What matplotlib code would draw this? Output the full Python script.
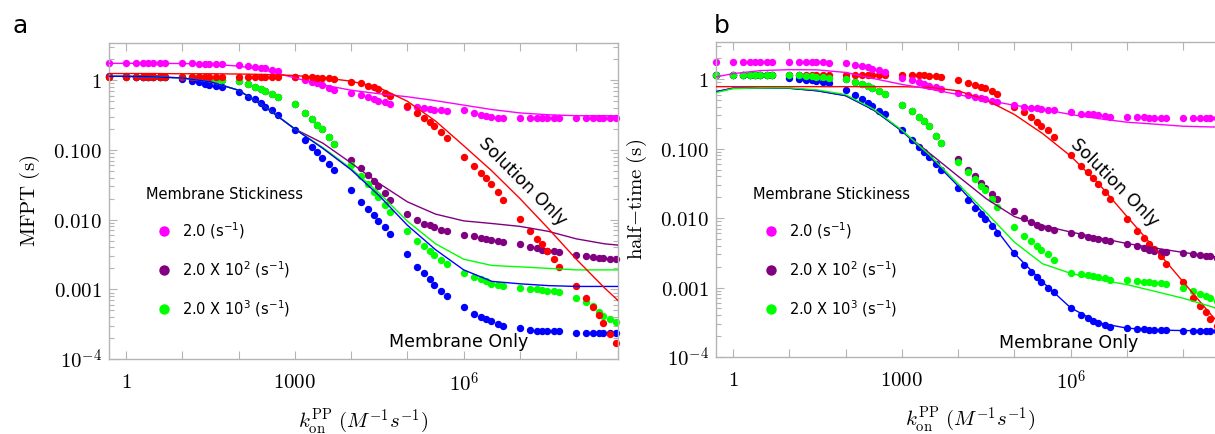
import matplotlib
matplotlib.use("Agg")
import matplotlib.pyplot as plt
from matplotlib.ticker import FixedLocator, FixedFormatter, NullLocator, LogLocator
from matplotlib.lines import Line2D

plt.rcParams['mathtext.fontset'] = 'cm'
plt.rcParams['font.family'] = ['DejaVu Sans']

# ---------------- sampling of k_on (simulation points) ----------------
DOT_LEAD = [0.5]
DOT_DECADES = [0, 1, 2, 3, 4, 5, 6, 7, 8]
DOT_MULT = [1, 1.5, 2, 2.5, 3, 4, 5]
# exponents of k_on where the fitted curves are tabulated
LINE_EXP = [-0.3, 0, 0.5, 1, 1.5, 2, 2.5, 3, 3.5, 4, 4.5, 5, 5.5, 6, 6.5, 7, 7.5, 8, 8.5, 8.75]

SERIES_NAMES = ["2.0 (s$^{-1}$)", "2.0 X 10$^{2}$ (s$^{-1}$)", "2.0 X 10$^{3}$ (s$^{-1}$)"]

# ---------------- panel a : MFPT ----------------
mfpt_mag = [1.75,
            1.75, 1.75, 1.75, 1.75, 1.75, 1.75, 1.75,
            1.75, 1.75, 1.74, 1.74, 1.74, 1.73, 1.72,
            1.68, 1.62, 1.57, 1.52, 1.48, 1.42, 1.36,
            1.12, 1.02, 0.95, 0.90, 0.85, 0.78, 0.72,
            0.66, 0.61, 0.57, 0.54, 0.51, 0.48, 0.45,
            0.42, 0.41, 0.40, 0.39, 0.38, 0.37, 0.36,
            0.37, 0.34, 0.32, 0.31, 0.30, 0.29, 0.285,
            0.29, 0.285, 0.285, 0.285, 0.285, 0.285, 0.285,
            0.285, 0.285, 0.285, 0.285, 0.285, 0.285, 0.285]
mfpt_pur = [1.13,
            1.13, 1.13, 1.13, 1.13, 1.13, 1.13, 1.13,
            1.13, 1.12, 1.10, 1.08, 1.06, 1.04, 1.02,
            0.99, 0.87, 0.80, 0.74, 0.70, 0.64, 0.58,
            0.45, 0.34, 0.28, 0.23, 0.20, 0.155, 0.12,
            0.072, 0.055, 0.044, 0.036, 0.030, 0.024, 0.019,
            0.012, 0.0098, 0.0088, 0.0083, 0.0078, 0.0072, 0.0068,
            0.0061, 0.0058, 0.0055, 0.0053, 0.0051, 0.0049, 0.0047,
            0.0045, 0.0041, 0.0039, 0.0037, 0.0036, 0.0035, 0.0034,
            0.0031, 0.0030, 0.0029, 0.0028, 0.0028, 0.0027, 0.0027]
mfpt_grn = [1.13,
            1.13, 1.13, 1.13, 1.13, 1.13, 1.13, 1.13,
            1.13, 1.12, 1.10, 1.08, 1.06, 1.04, 1.02,
            0.99, 0.87, 0.80, 0.74, 0.70, 0.64, 0.58,
            0.45, 0.34, 0.28, 0.23, 0.20, 0.155, 0.12,
            0.060, 0.042, 0.032, 0.025, 0.021, 0.016, 0.013,
            0.0068, 0.0050, 0.0042, 0.0035, 0.0031, 0.0026, 0.0023,
            0.0017, 0.0015, 0.0014, 0.0013, 0.0012, 0.00115, 0.0011,
            0.00105, 0.0010, 0.0010, 0.00098, 0.00096, 0.00094, 0.00092,
            0.00075, 0.00066, 0.00057, 0.00048, 0.00042, 0.00037, 0.00034]
mfpt_blu = [1.14,
            1.14, 1.13, 1.12, 1.12, 1.11, 1.10, 1.10,
            1.06, 0.99, 0.93, 0.89, 0.86, 0.83, 0.81,
            0.69, 0.58, 0.53, 0.47, 0.42, 0.37, 0.32,
            0.196, 0.141, 0.11, 0.092, 0.076, 0.062, 0.052,
            0.027, 0.018, 0.014, 0.0115, 0.0097, 0.0078, 0.0062,
            0.0032, 0.0021, 0.0017, 0.0014, 0.00115, 0.00095, 0.0008,
            0.00056, 0.00044, 0.0004, 0.00037, 0.00035, 0.00032, 0.0003,
            0.00028, 0.00026, 0.00025, 0.00025, 0.00025, 0.00025, 0.00025,
            0.00024, 0.00024, 0.00024, 0.00024, 0.00024, 0.00024, 0.00024]
mfpt_red = [1.13,
            1.13, 1.13, 1.13, 1.13, 1.13, 1.13, 1.13,
            1.13, 1.13, 1.13, 1.13, 1.13, 1.13, 1.13,
            1.13, 1.13, 1.13, 1.13, 1.13, 1.13, 1.13,
            1.12, 1.11, 1.10, 1.09, 1.08, 1.07, 1.06,
            0.96, 0.90, 0.84, 0.79, 0.74, 0.66, 0.60,
            0.43, 0.34, 0.29, 0.25, 0.22, 0.18, 0.15,
            0.080, 0.058, 0.046, 0.039, 0.033, 0.025, 0.019,
            0.0101, 0.0068, 0.0053, 0.0044, 0.0036, 0.0027, 0.0021,
            0.0011, 0.00075, 0.00055, 0.00043, 0.00033, 0.00023, 0.00017]

mfpt_fit_mag = [1.75, 1.75, 1.75, 1.74, 1.70, 1.60, 1.38, 1.08, 0.86, 0.72, 0.64, 0.58,
                0.51, 0.44, 0.38, 0.34, 0.32, 0.31, 0.31, 0.31]
mfpt_fit_pur = [1.14, 1.14, 1.12, 1.08, 0.95, 0.72, 0.40, 0.20, 0.125, 0.065, 0.033, 0.018,
                0.012, 0.0096, 0.0088, 0.0080, 0.0068, 0.0053, 0.0045, 0.0043]
mfpt_fit_grn = [1.14, 1.14, 1.12, 1.08, 0.95, 0.72, 0.40, 0.20, 0.108, 0.054, 0.024, 0.0095,
                0.0045, 0.0027, 0.0022, 0.0021, 0.0020, 0.0019, 0.0019, 0.0019]
mfpt_fit_blu = [1.14, 1.14, 1.12, 1.08, 0.95, 0.72, 0.40, 0.20, 0.105, 0.052, 0.022, 0.0083,
                0.0037, 0.0019, 0.0013, 0.0012, 0.00113, 0.0011, 0.0011, 0.0011]
mfpt_fit_red = [1.25, 1.25, 1.25, 1.24, 1.24, 1.23, 1.21, 1.17, 1.09, 0.97, 0.78, 0.50,
                0.26, 0.115, 0.050, 0.020, 0.0075, 0.0027, 0.00105, 0.00068]

# ---------------- panel b : half-time ----------------
half_mag = [1.76,
            1.76, 1.76, 1.76, 1.76, 1.76, 1.76, 1.76,
            1.76, 1.76, 1.76, 1.75, 1.75, 1.74, 1.73,
            1.70, 1.62, 1.55, 1.48, 1.42, 1.35, 1.28,
            1.05, 0.96, 0.90, 0.85, 0.80, 0.76, 0.72,
            0.64, 0.59, 0.56, 0.53, 0.51, 0.49, 0.47,
            0.42, 0.40, 0.39, 0.38, 0.37, 0.36, 0.355,
            0.34, 0.32, 0.31, 0.31, 0.30, 0.295, 0.29,
            0.29, 0.285, 0.285, 0.28, 0.28, 0.28, 0.28,
            0.28, 0.28, 0.28, 0.28, 0.28, 0.28, 0.28]
half_pur = [1.16,
            1.16, 1.16, 1.16, 1.16, 1.16, 1.16, 1.16,
            1.16, 1.14, 1.12, 1.10, 1.08, 1.06, 1.04,
            1.00, 0.92, 0.85, 0.79, 0.74, 0.68, 0.62,
            0.43, 0.35, 0.29, 0.25, 0.21, 0.15, 0.12,
            0.072, 0.050, 0.040, 0.032, 0.027, 0.022, 0.019,
            0.0125, 0.0101, 0.0088, 0.0080, 0.0075, 0.0071, 0.0068,
            0.0061, 0.0057, 0.0054, 0.0052, 0.0050, 0.0049, 0.0047,
            0.0042, 0.0039, 0.0037, 0.0035, 0.0034, 0.0033, 0.0032,
            0.0031, 0.0030, 0.0029, 0.0028, 0.0028, 0.0027, 0.0027]
half_grn = [1.16,
            1.16, 1.16, 1.16, 1.16, 1.16, 1.16, 1.16,
            1.16, 1.14, 1.12, 1.10, 1.08, 1.06, 1.04,
            1.00, 0.92, 0.85, 0.79, 0.74, 0.68, 0.62,
            0.43, 0.35, 0.29, 0.25, 0.21, 0.15, 0.12,
            0.064, 0.046, 0.036, 0.029, 0.025, 0.019, 0.0145,
            0.0075, 0.0055, 0.0047, 0.0040, 0.0035, 0.0030, 0.0025,
            0.0016, 0.00155, 0.0015, 0.00145, 0.0014, 0.00135, 0.0013,
            0.00127, 0.00125, 0.00122, 0.0012, 0.00118, 0.00116, 0.00114,
            0.0010, 0.0009, 0.00082, 0.00075, 0.0007, 0.00064, 0.0006]
half_blu = [1.16,
            1.16, 1.16, 1.15, 1.15, 1.14, 1.14, 1.13,
            1.05, 1.02, 0.98, 0.96, 0.94, 0.91, 0.89,
            0.70, 0.60, 0.52, 0.46, 0.41, 0.35, 0.31,
            0.187, 0.134, 0.106, 0.088, 0.075, 0.060, 0.050,
            0.027, 0.018, 0.014, 0.0115, 0.0098, 0.0078, 0.0062,
            0.0031, 0.0021, 0.0017, 0.0014, 0.0012, 0.00098, 0.00085,
            0.00051, 0.00040, 0.00036, 0.00033, 0.00031, 0.00029, 0.00027,
            0.00026, 0.000255, 0.00025, 0.000248, 0.000245, 0.000245, 0.000245,
            0.00024, 0.00024, 0.00024, 0.00024, 0.00024, 0.00024, 0.00024]
half_red = [1.16,
            1.16, 1.16, 1.16, 1.16, 1.16, 1.16, 1.16,
            1.16, 1.16, 1.16, 1.16, 1.16, 1.16, 1.16,
            1.16, 1.16, 1.16, 1.16, 1.16, 1.16, 1.16,
            1.16, 1.15, 1.14, 1.13, 1.12, 1.10, 1.08,
            0.98, 0.89, 0.83, 0.78, 0.74, 0.67, 0.62,
            0.40, 0.34, 0.29, 0.24, 0.21, 0.185, 0.145,
            0.081, 0.057, 0.046, 0.038, 0.031, 0.024, 0.019,
            0.0098, 0.0066, 0.0052, 0.0043, 0.0036, 0.0028, 0.0022,
            0.0012, 0.0007, 0.00055, 0.00044, 0.00035, 0.00028, 0.00025]

half_fit_mag = [1.08, 1.20, 1.33, 1.37, 1.36, 1.25, 1.02, 0.84, 0.72, 0.60, 0.50, 0.42,
                0.37, 0.31, 0.27, 0.24, 0.225, 0.21, 0.205, 0.205]
half_fit_pur = [0.66, 0.74, 0.75, 0.74, 0.68, 0.58, 0.36, 0.18, 0.085, 0.040, 0.019, 0.0105,
                0.0078, 0.0063, 0.0052, 0.0043, 0.0037, 0.0032, 0.0028, 0.0027]
half_fit_grn = [0.64, 0.73, 0.75, 0.75, 0.70, 0.60, 0.37, 0.185, 0.080, 0.031, 0.012, 0.0045,
                0.0022, 0.0016, 0.0013, 0.0011, 0.00088, 0.0007, 0.00053, 0.00045]
half_fit_blu = [0.66, 0.74, 0.75, 0.74, 0.68, 0.58, 0.36, 0.18, 0.075, 0.029, 0.0105, 0.0031,
                0.0012, 0.00051, 0.00031, 0.00026, 0.000245, 0.00024, 0.00024, 0.00024]
half_fit_red = [0.78, 0.78, 0.78, 0.78, 0.78, 0.78, 0.78, 0.78, 0.76, 0.68, 0.50, 0.31,
                0.165, 0.078, 0.031, 0.0105, 0.0036, 0.0012, 0.0004, 0.00024]

MAG, PUR, GRN, BLU, RED = '#ff00ff', '#800080', '#00ff00', '#0000ff', '#ff0000'

k_dots = DOT_LEAD + [m * 10.0 ** d for d in DOT_DECADES for m in DOT_MULT]
k_line = [10.0 ** e for e in LINE_EXP]

X_TICKS = [10.0 ** d for d in range(0, 9)]
X_TICKLABELS = ['$1$', '', '', '$1000$', '', '', '$10^{6}$', '', '']
Y_TICKS = [1e-4, 1e-3, 1e-2, 1e-1, 1]
Y_TICKLABELS = ['$10^{-4}$', '$0.001$', '$0.010$', '$0.100$', '$1$']

SPINE = '#b4b4b4'

fig = plt.figure(figsize=(12.15, 4.34), dpi=100)
axA = fig.add_axes([109 / 1215, 75 / 434, 509 / 1215, 316 / 434])
axB = fig.add_axes([716 / 1215, 77 / 434, 509 / 1215, 315 / 434])


def style(ax, ylabel):
    ax.set_xscale('log')
    ax.set_yscale('log')
    ax.set_xlim(10 ** -0.3, 10 ** 8.74)
    ax.set_ylim(1e-4, 10 ** 0.535)
    ax.xaxis.set_major_locator(FixedLocator(X_TICKS))
    ax.xaxis.set_major_formatter(FixedFormatter(X_TICKLABELS))
    ax.xaxis.set_minor_locator(NullLocator())
    ax.yaxis.set_major_locator(FixedLocator(Y_TICKS))
    ax.yaxis.set_major_formatter(FixedFormatter(Y_TICKLABELS))
    ax.yaxis.set_minor_locator(LogLocator(base=10, subs=range(2, 10), numticks=20))
    for s in ax.spines.values():
        s.set_color(SPINE)
        s.set_linewidth(1.0)
    ax.tick_params(which='both', direction='in', top=True, right=True, color=SPINE, width=0.8)
    ax.tick_params(which='major', length=6, labelsize=15)
    ax.tick_params(which='minor', length=3.5)
    ax.tick_params(axis='x', which='major', pad=9)
    ax.tick_params(axis='y', which='major', pad=5)
    ax.set_xlabel(r'$k_{\mathrm{on}}^{\mathrm{PP}}\ (M^{-1}s^{-1})$', fontsize=15, labelpad=8)
    ax.set_ylabel(ylabel, fontsize=15, labelpad=8)


def draw(ax, dots, fits, order):
    for key in order:
        ax.plot(k_dots, dots[key], ls='none', marker='o', ms=5.3, mec='none',
                color=key, clip_on=False, zorder=2)
    for key in order:
        ax.plot(k_line, fits[key], '-', lw=1.0, color=key, zorder=3)


draw(axA,
     {MAG: mfpt_mag, PUR: mfpt_pur, GRN: mfpt_grn, BLU: mfpt_blu, RED: mfpt_red},
     {MAG: mfpt_fit_mag, PUR: mfpt_fit_pur, GRN: mfpt_fit_grn, BLU: mfpt_fit_blu, RED: mfpt_fit_red},
     [MAG, PUR, GRN, BLU, RED])
draw(axB,
     {MAG: half_mag, PUR: half_pur, GRN: half_grn, BLU: half_blu, RED: half_red},
     {MAG: half_fit_mag, PUR: half_fit_pur, GRN: half_fit_grn, BLU: half_fit_blu, RED: half_fit_red},
     [RED, MAG, PUR, BLU, GRN])

style(axA, r'$\mathrm{MFPT\ (s)}$')
style(axB, r'$\mathrm{half{-}time\ (s)}$')

for ax, sol_xy, mem_xy, leg_y in [(axA, (0.813, 0.56), (0.686, 0.054), 0.544),
                                  (axB, (0.782, 0.552), (0.692, 0.044), 0.54)]:
    handles = [Line2D([], [], ls='none', marker='o', ms=7.5, mec='none', color=c)
               for c in (MAG, PUR, GRN)]
    leg = ax.legend(handles, SERIES_NAMES, title='Membrane Stickiness', loc='upper left',
                    bbox_to_anchor=(0.0727, leg_y), frameon=False, fontsize=10.5,
                    title_fontsize=10.5, handlelength=0.8, handletextpad=0.83,
                    labelspacing=1.25, borderpad=0, borderaxespad=0)
    for t in leg.get_texts():
        t.set_math_fontfamily('dejavusans')
    ax.text(*sol_xy, 'Solution Only', rotation=-45, rotation_mode='anchor',
            ha='center', va='center', fontsize=12.5, transform=ax.transAxes)
    ax.text(*mem_xy, 'Membrane Only', ha='center', va='center', fontsize=12.5,
            transform=ax.transAxes)

fig.text(13 / 1215, 1 - 33 / 434, 'a', fontsize=18, ha='left', va='baseline')
fig.text(714 / 1215, 1 - 33 / 434, 'b', fontsize=18, ha='left', va='baseline')

fig.savefig('out.png', dpi=100)
